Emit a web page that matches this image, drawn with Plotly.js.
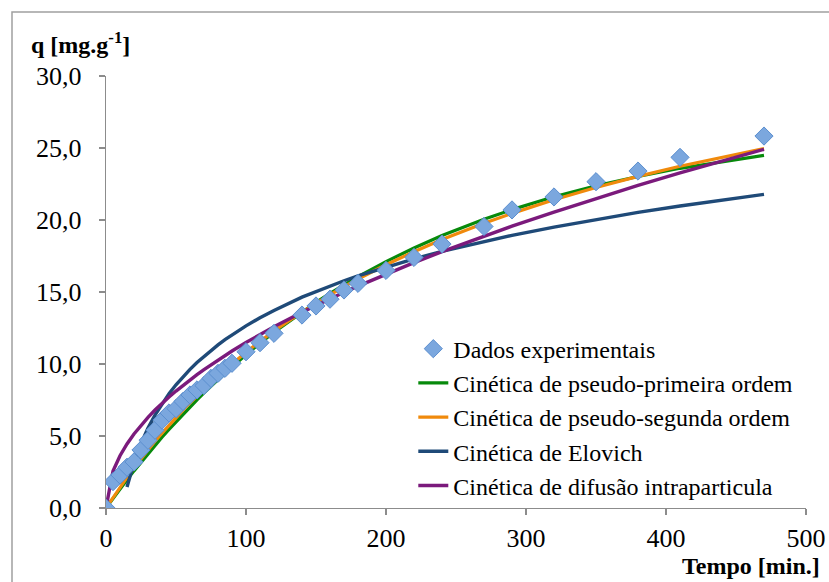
<!DOCTYPE html>
<html>
<head>
<meta charset="utf-8">
<script src="https://cdn.plot.ly/plotly-3.0.1.min.js"></script>
<style>
  html, body { margin: 0; padding: 0; background: #ffffff; }
  #chart { width: 829px; height: 582px; }
</style>
</head>
<body>
<div id="chart"></div>
<script>
// Sorption kinetics: experimental uptake q (mg/g) vs contact time (min)
// and the four fitted kinetic models evaluated at the same times.

const tempo = [0, 5, 10, 15, 20, 25, 30, 35, 40, 45, 50, 55, 60, 65, 70, 75, 80, 85, 90,
  100, 110, 120, 140, 150, 160, 170, 180, 200, 220, 240, 270, 290, 320, 350, 380, 410, 470];

const qExperimental = [0, 1.83, 2.29, 2.83, 3.20, 4.03, 4.70, 5.40, 6.10, 6.60, 6.90, 7.40,
  7.85, 8.20, 8.50, 9.00, 9.35, 9.70, 10.05, 10.85, 11.48, 12.13, 13.40, 14.03, 14.50,
  15.14, 15.60, 16.50, 17.40, 18.33, 19.55, 20.70, 21.60, 22.66, 23.40, 24.35, 25.83];

const qPseudoPrimeira = [0, 0.67, 1.32, 1.96, 2.58, 3.18, 3.77, 4.35, 4.91, 5.46, 5.99, 6.51,
  7.02, 7.51, 7.99, 8.47, 8.93, 9.37, 9.81, 10.65, 11.45, 12.21, 13.63, 14.28, 14.91,
  15.50, 16.06, 17.11, 18.06, 18.92, 20.05, 20.72, 21.61, 22.37, 23.02, 23.59, 24.49];

const qPseudoSegunda = [0, 0.74, 1.45, 2.13, 2.79, 3.42, 4.03, 4.63, 5.20, 5.75, 6.29, 6.80,
  7.31, 7.79, 8.26, 8.72, 9.16, 9.59, 10.01, 10.81, 11.57, 12.29, 13.61, 14.23, 14.81,
  15.37, 15.90, 16.89, 17.80, 18.64, 19.78, 20.46, 21.41, 22.26, 23.03, 23.73, 24.96];

// Elovich model is only defined from t = 15 min onwards
const tempoElovich = [15, 20, 25, 30, 35, 40, 45, 50, 55, 60, 65, 70, 75, 80, 85, 90,
  100, 110, 120, 140, 150, 160, 170, 180, 200, 220, 240, 270, 290, 320, 350, 380, 410, 470];
const qElovich = [1.46, 3.16, 4.47, 5.55, 6.45, 7.24, 7.94, 8.56, 9.12, 9.63, 10.11, 10.54,
  10.95, 11.33, 11.69, 12.03, 12.65, 13.21, 13.72, 14.64, 15.04, 15.42, 15.78, 16.12,
  16.74, 17.30, 17.82, 18.51, 18.93, 19.51, 20.04, 20.53, 20.97, 21.78];

const qDifusao = [0, 2.57, 3.63, 4.45, 5.14, 5.75, 6.29, 6.80, 7.27, 7.71, 8.12, 8.52,
  8.90, 9.26, 9.61, 9.95, 10.28, 10.59, 10.90, 11.49, 12.05, 12.59, 13.59, 14.07, 14.53,
  14.98, 15.41, 16.25, 17.04, 17.80, 18.88, 19.57, 20.55, 21.50, 22.40, 23.27, 24.91];

const serif = 'Liberation Serif';

const traces = [
  {
    x: tempo, y: qPseudoPrimeira, type: 'scatter', mode: 'lines',
    name: 'Cinética de pseudo-primeira ordem', legendrank: 2,
    line: { color: '#078a0b', width: 3.2 }
  },
  {
    x: tempo, y: qPseudoSegunda, type: 'scatter', mode: 'lines',
    name: 'Cinética de pseudo-segunda ordem', legendrank: 3,
    line: { color: '#f08a0c', width: 3.2 }
  },
  {
    x: tempoElovich, y: qElovich, type: 'scatter', mode: 'lines',
    name: 'Cinética de Elovich', legendrank: 4,
    line: { color: '#1f4a78', width: 3.4 }
  },
  {
    x: tempo, y: qDifusao, type: 'scatter', mode: 'lines',
    name: 'Cinética de difusão intraparticula', legendrank: 5,
    line: { color: '#7b1a7c', width: 3.4 }
  },
  {
    x: tempo, y: qExperimental, type: 'scatter', mode: 'markers',
    name: 'Dados experimentais', legendrank: 1,
    marker: { symbol: 'diamond', size: 14, color: '#7ba7de',
              line: { color: '#5c8fcf', width: 1 } }
  }
];

const layout = {
  width: 829, height: 582,
  margin: { l: 106, r: 23, t: 76, b: 74 },
  paper_bgcolor: '#ffffff', plot_bgcolor: '#ffffff',
  separators: ', ',
  font: { family: serif, size: 24, color: '#000000' },
  showlegend: true,
  legend: {
    x: 0.439, y: 0.42, xanchor: 'left', yanchor: 'top',
    bgcolor: 'rgba(0,0,0,0)', borderwidth: 0,
    font: { family: serif, size: 24, color: '#000000' },
    traceorder: 'normal', itemwidth: 30
  },
  xaxis: {
    range: [0, 500], tickvals: [0, 100, 200, 300, 400, 500],
    showgrid: false, zeroline: false,
    showline: true, linecolor: '#8c8c8c', linewidth: 1.3,
    ticks: 'outside', ticklen: 6, tickcolor: '#8c8c8c', tickwidth: 1.3,
    ticklabelstandoff: 0,
    tickfont: { family: serif, size: 26, color: '#000000' }
  },
  yaxis: {
    range: [0, 30], tickvals: [0, 5, 10, 15, 20, 25, 30], tickformat: '.1f',
    showgrid: false, zeroline: false,
    showline: true, linecolor: '#8c8c8c', linewidth: 1.3,
    ticks: 'outside', ticklen: 6, tickcolor: '#8c8c8c', tickwidth: 1.3,
    ticklabelstandoff: 12,
    tickfont: { family: serif, size: 26, color: '#000000' }
  },
  shapes: [
    {
      type: 'rect', xref: 'paper', yref: 'paper',
      x0: (12 - 106) / 700, x1: (840 - 106) / 700,
      y0: (508 - 600) / 432, y1: (508 - 12) / 432,
      line: { color: '#a0a0a0', width: 1.5 }, fillcolor: 'rgba(0,0,0,0)', layer: 'below'
    }
  ],
  annotations: [
    {
      text: '<b>q [mg.g<sup>-1</sup>]</b>', xref: 'paper', yref: 'paper',
      x: (29 - 106) / 700, y: (508 - 43) / 432, xanchor: 'left', yanchor: 'middle',
      showarrow: false, font: { family: serif, size: 24, color: '#000000' }
    },
    {
      text: '<b>Tempo [min.]</b>', xref: 'paper', yref: 'paper',
      x: (822 - 106) / 700, y: (508 - 566) / 432, xanchor: 'right', yanchor: 'middle',
      showarrow: false, font: { family: serif, size: 24, color: '#000000' }
    }
  ]
};

Plotly.newPlot('chart', traces, layout, { displayModeBar: false, staticPlot: true });
</script>
</body>
</html>
